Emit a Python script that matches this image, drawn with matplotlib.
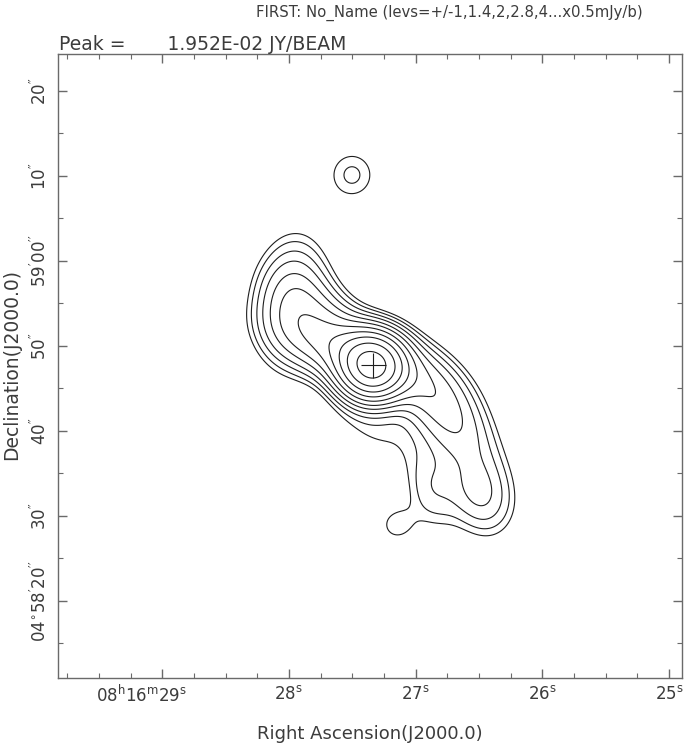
import numpy as np
import matplotlib
matplotlib.use("Agg")
import matplotlib.pyplot as plt
from matplotlib.ticker import FixedLocator, MultipleLocator

# ---------------- data ----------------
title_text = "FIRST: No_Name (levs=+/-1,1.4,2,2.8,4...x0.5mJy/b)"
peak_text = "Peak =       1.952E-02 JY/BEAM"

# contour levels (multiples of 0.5 mJy/beam)
level_base = 0.5
level_mults = [1, 1.4, 2, 2.8, 4, 5.6, 8, 11.3, 16, 22.6, 32]
neg_level_mults = [-1]

# Source model components read from the map
# RA in seconds of 08h16m, Dec in arcsec above 04d58'00"
comp_ra = [27.344, 27.440, 27.975, 27.716, 26.767, 26.490, 26.885, 27.154, 27.320, 27.502]
comp_dec = [47.65, 48.60, 55.41, 52.47, 42.47, 32.47, 33.06, 28.94, 40.10, 70.12]
comp_amp = [15.5, 4.0, 2.0, 2.0, 2.2, 1.4, 0.8, 0.6, 0.5, 0.76]      # mJy/beam
comp_maj = [5.4, 13.0, 11.0, 10.0, 12.0, 8.0, 8.0, 4.0, 10.0, 5.6]   # FWHM arcsec
comp_min = [5.4, 5.5, 6.5, 6.0, 6.0, 6.0, 5.0, 4.0, 6.0, 5.4]        # FWHM arcsec
comp_pa = [0, 70, -5, 50, 35, 20, 10, 0, 60, 0]                      # deg E of N

cross_ra = 27.340
cross_dec = 47.76

ra_ticks = [29, 28, 27, 26, 25]
ra_labels = [r"$\mathregular{08^h16^m29^s}$", r"$\mathregular{28^s}$",
             r"$\mathregular{27^s}$", r"$\mathregular{26^s}$", r"$\mathregular{25^s}$"]
dec_ticks = [20, 30, 40, 50, 60, 70, 80]
dec_labels = [r"$\mathregular{04^{\circ}58^{\prime}20^{\prime\prime}}$",
              r"$\mathregular{30^{\prime\prime}}$", r"$\mathregular{40^{\prime\prime}}$",
              r"$\mathregular{50^{\prime\prime}}$",
              r"$\mathregular{59^{\prime}00^{\prime\prime}}$",
              r"$\mathregular{10^{\prime\prime}}$", r"$\mathregular{20^{\prime\prime}}$"]

ra_lim = (29.82, 24.895)
dec_lim = (10.94, 84.35)
arcsec_per_sec = 14.94

# ---------------- model field ----------------
ra_grid = np.linspace(24.8, 29.9, 500)
dec_grid = np.linspace(10.0, 85.0, 500)
RA, DEC = np.meshgrid(ra_grid, dec_grid)
field = np.zeros_like(RA)
for ra0, de0, a, fmaj, fmin, pa in zip(comp_ra, comp_dec, comp_amp, comp_maj, comp_min, comp_pa):
    dE = (RA - ra0) * arcsec_per_sec
    dN = DEC - de0
    p = np.deg2rad(pa)
    u = dE * np.sin(p) + dN * np.cos(p)
    v = -dE * np.cos(p) + dN * np.sin(p)
    sa = fmaj / 2.3548
    sb = fmin / 2.3548
    field += a * np.exp(-0.5 * (u ** 2 / sa ** 2 + v ** 2 / sb ** 2))

levels = [level_base * m for m in level_mults]
neg_levels = [level_base * m for m in neg_level_mults]

# ---------------- figure ----------------
plt.rcParams['font.family'] = ['DejaVu Sans']
plt.rcParams['mathtext.fontset'] = 'dejavusans'
txt_col = '#3c3c3c'
ax_col = '#6a6a6a'

fig = plt.figure(figsize=(6.86, 7.46), dpi=100)
ax = fig.add_axes([58.3 / 686, 1 - 678 / 746, 624 / 686, 624 / 746])

ax.contour(RA, DEC, field, levels=levels, colors='#1e1e1e', linewidths=0.8)
if field.min() < neg_levels[0]:
    ax.contour(RA, DEC, field, levels=neg_levels, colors='#1e1e1e',
               linewidths=0.8, linestyles='dashed')
ax.plot([cross_ra], [cross_dec], marker='+', ms=18, mew=0.8, color='#1e1e1e')

ax.set_xlim(*ra_lim)
ax.set_ylim(*dec_lim)

for s in ax.spines.values():
    s.set_color(ax_col)
    s.set_linewidth(1.0)

ax.xaxis.set_major_locator(FixedLocator(ra_ticks))
ax.xaxis.set_minor_locator(MultipleLocator(0.25))
ax.yaxis.set_major_locator(FixedLocator(dec_ticks))
ax.yaxis.set_minor_locator(MultipleLocator(5))
ax.tick_params(which='both', direction='in', top=True, right=True,
               color=ax_col, labelbottom=False, labelleft=False)
ax.tick_params(which='major', length=6.5, width=1.0)
ax.tick_params(which='minor', length=3.8, width=0.8)

fs = 12
for i, (t, lab) in enumerate(zip(ra_ticks, ra_labels)):
    if i == 0:
        ax.annotate(lab, xy=(t, 0), xycoords=('data', 'axes fraction'),
                    xytext=(18, -5), textcoords='offset points',
                    ha='right', va='top', fontsize=fs, color=txt_col)
    else:
        ax.annotate(lab, xy=(t, 0), xycoords=('data', 'axes fraction'),
                    xytext=(0, -5), textcoords='offset points',
                    ha='center', va='top', fontsize=fs, color=txt_col)
for t, lab in zip(dec_ticks, dec_labels):
    ax.annotate(lab, xy=(0, t), xycoords=('axes fraction', 'data'),
                xytext=(-6, 0), textcoords='offset points',
                ha='right', va='center', rotation=90, fontsize=fs, color=txt_col)

fig.text(370 / 686, 1 - 734 / 746, "Right Ascension(J2000.0)", ha='center', va='center',
         fontsize=13, color=txt_col)
fig.text(12 / 686, 1 - 364 / 746, "Declination(J2000.0)", ha='center', va='center',
         rotation=90, fontsize=13.5, color=txt_col)
fig.text(449 / 686, 1 - 13 / 746, title_text, ha='center', va='center',
         fontsize=10.7, color=txt_col)
fig.text(59 / 686, 1 - 45 / 746, peak_text, ha='left', va='center',
         fontsize=13.5, color=txt_col)

fig.savefig("out.png", dpi=100, facecolor='white')
